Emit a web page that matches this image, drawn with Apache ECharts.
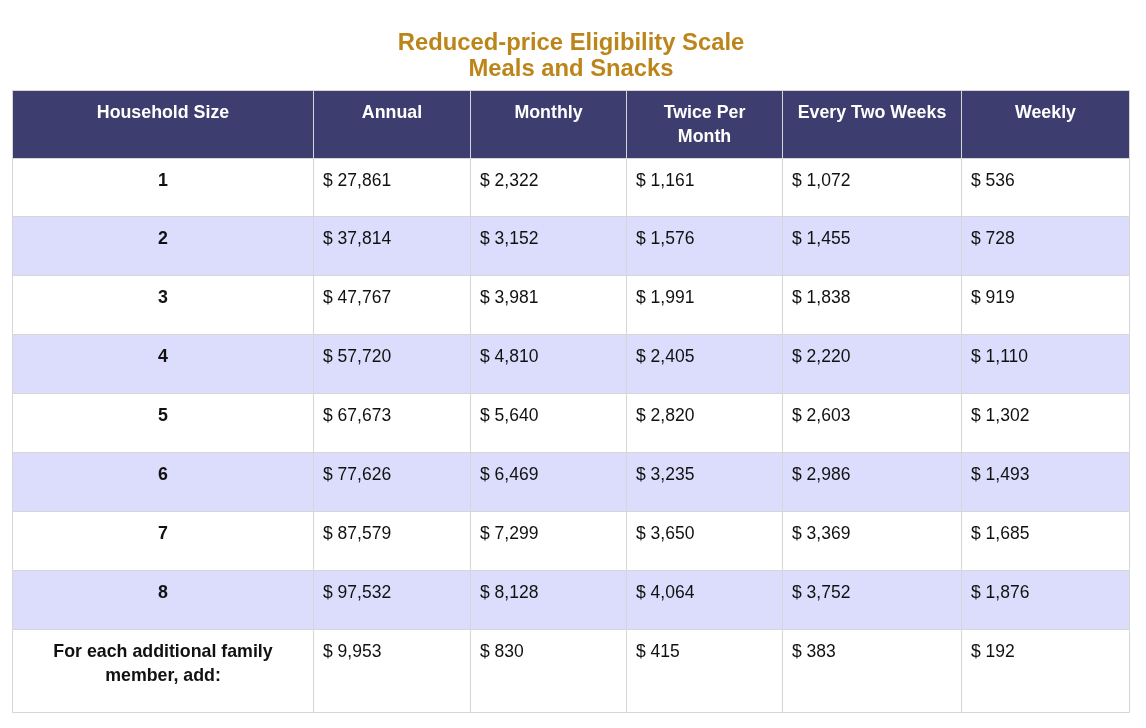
<!DOCTYPE html>
<html>
<head>
<meta charset="utf-8">
<script src="https://cdn.jsdelivr.net/npm/echarts@6/dist/echarts.min.js"></script>
<style>
html,body{margin:0;padding:0;background:#fff;}
#chart{width:1146px;height:728px;}
</style>
</head>
<body>
<div id="chart"></div>
<script>
// ---- data ----
var headers = ['Household Size', 'Annual', 'Monthly', 'Twice Per\nMonth', 'Every Two Weeks', 'Weekly'];
var householdSize = ['1', '2', '3', '4', '5', '6', '7', '8', 'For each additional family\nmember, add:'];
var annual = [27861, 37814, 47767, 57720, 67673, 77626, 87579, 97532, 9953];
var monthly = [2322, 3152, 3981, 4810, 5640, 6469, 7299, 8128, 830];
var twicePerMonth = [1161, 1576, 1991, 2405, 2820, 3235, 3650, 4064, 415];
var everyTwoWeeks = [1072, 1455, 1838, 2220, 2603, 2986, 3369, 3752, 383];
var weekly = [536, 728, 919, 1110, 1302, 1493, 1685, 1876, 192];
var titleText = 'Reduced-price Eligibility Scale\nMeals and Snacks';

// ---- layout (axis units) ----
var colEdges = [0, 301, 458, 614, 770, 949, 1117];
var rowEdges = [0, 68];
for (var r = 1; r <= 8; r++) rowEdges.push(68 + 58.9 * r);
rowEdges.push(622);

var FONT = "'Liberation Sans', Helvetica, Arial, sans-serif";
var valueCols = [annual, monthly, twicePerMonth, everyTwoWeeks, weekly];
function fmt(v) { return '$ ' + v.toLocaleString('en-US'); }

var cells = [];
for (var c = 0; c < headers.length; c++) cells.push([c, 0, headers[c]]);
for (var i = 0; i < householdSize.length; i++) {
  cells.push([0, i + 1, householdSize[i]]);
  for (var k = 0; k < valueCols.length; k++) cells.push([k + 1, i + 1, fmt(valueCols[k][i])]);
}

var chart = echarts.init(document.getElementById('chart'), null, {renderer: 'canvas'});
chart.setOption({
  animation: false,
  title: {
    text: titleText,
    left: 566,
    top: 25,
    textAlign: 'center',
    textStyle: {color: '#bc851a', fontSize: 23.8, fontWeight: 'bold', lineHeight: 26, fontFamily: FONT}
  },
  grid: {left: 12, top: 90, width: 1118, height: 622},
  xAxis: {type: 'value', min: 0, max: 1118, show: false},
  yAxis: {type: 'value', min: 0, max: 622, inverse: true, show: false},
  series: [{
    type: 'custom',
    coordinateSystem: 'cartesian2d',
    data: cells,
    renderItem: function (params, api) {
      var col = api.value(0), row = api.value(1);
      var d = cells[params.dataIndex];
      var p0 = api.coord([colEdges[col], rowEdges[row]]);
      var p1 = api.coord([colEdges[col + 1], rowEdges[row + 1]]);
      var x0 = Math.floor(p0[0]) + 0.5, x1 = Math.floor(p1[0]) + 0.5;
      var y0 = Math.floor(p0[1]) + 0.5, y1 = Math.floor(p1[1]) + 0.5;
      var fill = row === 0 ? '#3e3d6f' : (row % 2 === 0 ? '#dcdcfc' : '#ffffff');
      var isHeader = row === 0, isFirst = col === 0;
      var bold = isHeader || isFirst;
      var tx, align;
      if (bold) { tx = (x0 + x1) / 2; align = 'center'; }
      else { tx = x0 + 9.5; align = 'left'; }
      return {
        type: 'group',
        children: [{
          type: 'rect',
          shape: {x: x0, y: y0, width: x1 - x0, height: y1 - y0},
          style: {fill: fill, stroke: '#d6d6d6', lineWidth: 1}
        }, {
          type: 'text',
          style: {
            text: d[2],
            x: tx,
            y: y0 + 10.5,
            align: align,
            verticalAlign: 'top',
            lineHeight: 24,
            fontSize: bold ? 17.8 : 17.5,
            fontFamily: FONT,
            fontWeight: bold ? 'bold' : 'normal',
            fill: isHeader ? '#ffffff' : '#111111'
          }
        }]
      };
    }
  }]
});
</script>
</body>
</html>
